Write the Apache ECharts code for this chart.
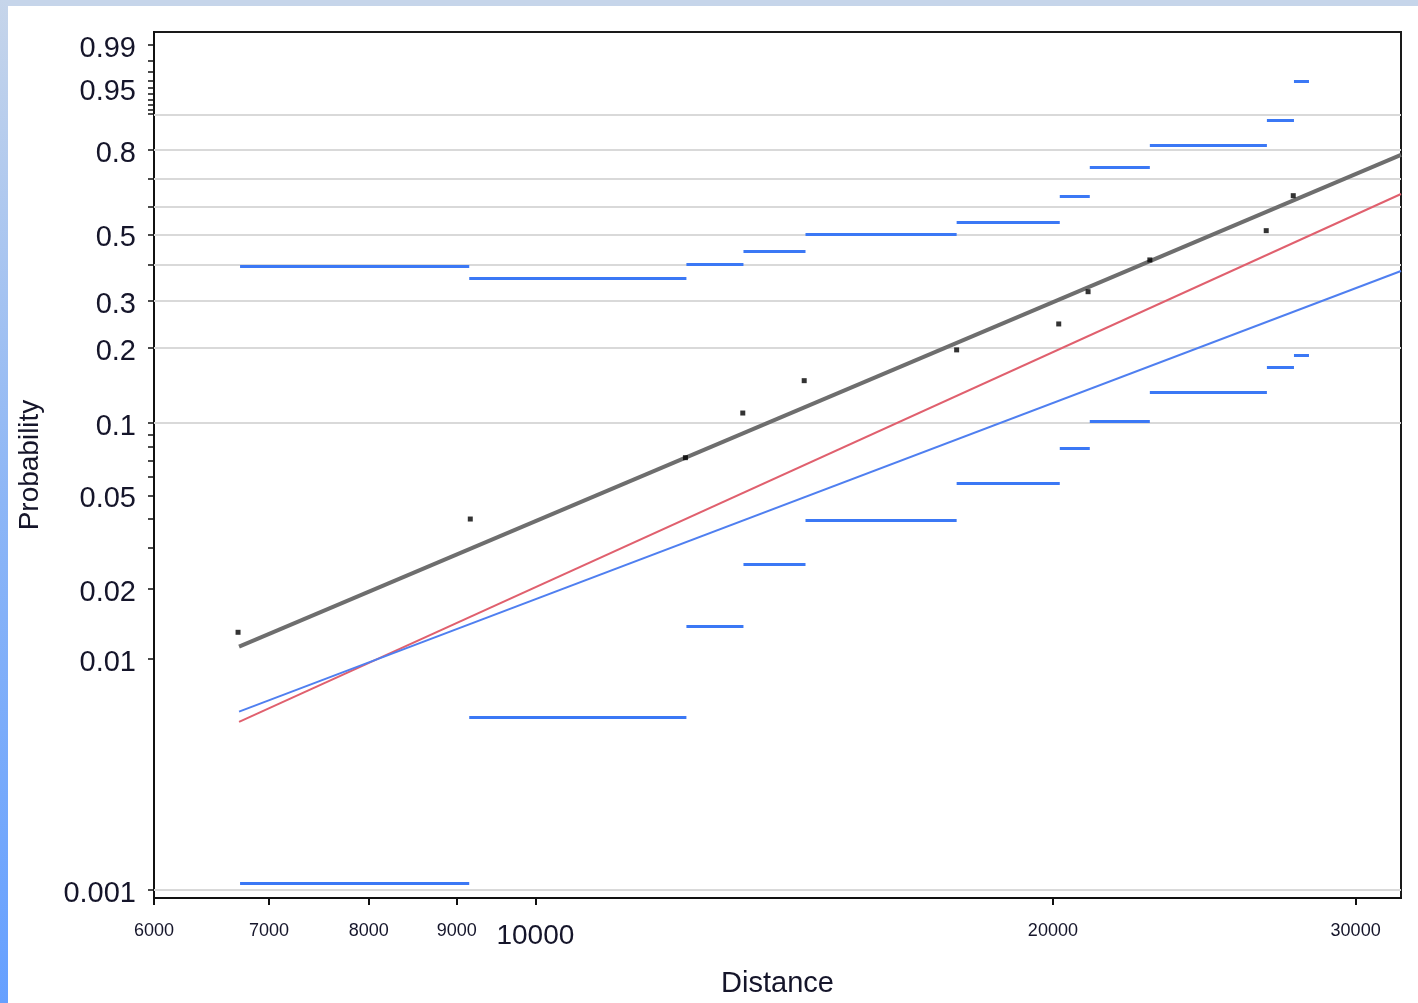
<!DOCTYPE html>
<html><head><meta charset="utf-8">
<script src="https://cdn.jsdelivr.net/npm/echarts@6/dist/echarts.min.js"></script>
<style>
html,body{margin:0;padding:0;width:1418px;height:1003px;overflow:hidden;background:#fff;}
#topbar{position:absolute;left:0;top:0;width:1418px;height:6px;background:#c6d5ea;}
#leftbar{position:absolute;left:0;top:0;width:8px;height:1003px;background:linear-gradient(#c6d5ea,#8db6f6 50%,#66a0ff);}
#chart{position:absolute;left:0;top:0;width:1418px;height:1003px;}
</style></head><body>
<div id="topbar"></div><div id="leftbar"></div><div id="chart"></div>
<script>
// ---- data (Distance, Probability) ----
const pointDistance = [6715, 9165, 12226, 13202, 14334, 17581, 20157, 20965, 22773, 26615, 27596];
const pointProb     = [0.0130, 0.0397, 0.0720, 0.1101, 0.1488, 0.1967, 0.2470, 0.3239, 0.4157, 0.5131, 0.6395];

const fitDistance = [6724, 31880];
const fitProb     = [0.01127, 0.7838];   // gray fitted line
const redProb     = [0.005335, 0.6457];  // red line
const blueProb    = [0.005911, 0.3820];  // blue line

const stepEdges = [6733, 9152, 12242, 13214, 14359, 17581, 20185, 21013, 22773, 26639, 27622, 28183];
const upperProb = [0.3971, 0.3617, 0.4032, 0.4443, 0.5016, 0.5438, 0.6359, 0.7419, 0.8150, 0.8853, 0.9594];
const lowerProb = [0.001072, 0.00561, 0.01383, 0.02537, 0.0392, 0.0562, 0.0785, 0.1015, 0.1340, 0.1682, 0.1880];

const xTickValues  = [6000, 7000, 8000, 9000, 10000, 20000, 30000];
const yLabelValues = [0.001, 0.01, 0.02, 0.05, 0.1, 0.2, 0.3, 0.5, 0.8, 0.95, 0.99];
const yTickValues  = [0.001, 0.01, 0.02, 0.03, 0.04, 0.05, 0.06, 0.07, 0.08, 0.09, 0.1, 0.2, 0.3, 0.4, 0.5, 0.6, 0.7, 0.8, 0.9,
                      0.91, 0.92, 0.93, 0.94, 0.95, 0.96, 0.97, 0.98, 0.99];
const yGridValues  = [0.001, 0.1, 0.2, 0.3, 0.4, 0.5, 0.6, 0.7, 0.8, 0.9];
const xRange = [6000, 31880];
const yRange = [0.000923, 0.99461];

// Weibull probability scale
const W = p => Math.log(-Math.log(1 - p));
const L = Math.log;

const txt = '#15152a';
const font = 'Liberation Sans';

const segData = [];
for (let i = 0; i < upperProb.length; i++) {
  segData.push({coords: [[L(stepEdges[i]), W(upperProb[i])], [L(stepEdges[i+1]), W(upperProb[i])]]});
  segData.push({coords: [[L(stepEdges[i]), W(lowerProb[i])], [L(stepEdges[i+1]), W(lowerProb[i])]]});
}

const chart = echarts.init(document.getElementById('chart'), null, {renderer: 'canvas'});
chart.setOption({
  animation: false,
  backgroundColor: 'transparent',
  grid: {left: 154, top: 32, right: 17, bottom: 105, show: true, borderColor: '#1a1a1a', borderWidth: 2, backgroundColor: '#fff'},
  xAxis: {
    type: 'value', min: L(xRange[0]), max: L(xRange[1]),
    axisLine: {show: true, onZero: false, lineStyle: {color: '#111', width: 2}},
    axisTick: {show: true, customValues: xTickValues.map(L), length: 7, lineStyle: {color: '#111', width: 2}},
    axisLabel: {
      customValues: xTickValues.map(L), margin: 24, color: txt, fontFamily: font,
      formatter: v => { const d = Math.round(Math.exp(v)); return d === 10000 ? '{b|' + d + '}' : '{s|' + d + '}'; },
      rich: {s: {fontSize: 18, color: txt, fontFamily: font}, b: {fontSize: 28, color: txt, fontFamily: font}}
    },
    splitLine: {show: false},
    name: 'Distance', nameLocation: 'middle', nameGap: 71,
    nameTextStyle: {fontSize: 29, color: txt, fontFamily: font}
  },
  yAxis: {
    type: 'value', min: W(yRange[0]), max: W(yRange[1]),
    axisLine: {show: true, onZero: false, lineStyle: {color: '#111', width: 2}},
    axisTick: {show: true, customValues: yTickValues.map(W), length: 6, lineStyle: {color: '#111', width: 1.5}},
    axisLabel: {
      customValues: yLabelValues.map(W), margin: 18, fontSize: 29, color: txt, fontFamily: font,
      formatter: v => {
        let best = yLabelValues[0];
        yLabelValues.forEach(q => { if (Math.abs(W(q) - v) < Math.abs(W(best) - v)) best = q; });
        return '{a|' + best + '}';
      },
      rich: {a: {fontSize: 29, color: txt, fontFamily: font, padding: [8, 0, 0, 0]}}
    },
    splitLine: {show: false},
    name: 'Probability', nameLocation: 'middle', nameGap: 110, nameRotate: 90,
    nameTextStyle: {fontSize: 28, color: txt, fontFamily: font}
  },
  series: [
    {
      type: 'line', data: [], silent: true, z: 1,
      markLine: {
        silent: true, symbol: 'none', label: {show: false}, animation: false, z: 1,
        lineStyle: {color: '#d9d9d9', width: 2, type: 'solid'},
        data: yGridValues.map(p => ({yAxis: W(p)}))
      }
    },
    {
      type: 'lines', coordinateSystem: 'cartesian2d', z: 3, silent: true,
      lineStyle: {color: '#3b78f5', width: 3, opacity: 1},
      data: segData
    },
    {
      type: 'line', z: 4, symbol: 'none', silent: true,
      lineStyle: {color: '#e0606e', width: 2},
      data: fitDistance.map((d, i) => [L(d), W(redProb[i])])
    },
    {
      type: 'line', z: 4, symbol: 'none', silent: true,
      lineStyle: {color: '#4f7ff0', width: 2},
      data: fitDistance.map((d, i) => [L(d), W(blueProb[i])])
    },
    {
      type: 'line', z: 5, symbol: 'none', silent: true,
      lineStyle: {color: '#6e6e6e', width: 4},
      data: fitDistance.map((d, i) => [L(d), W(fitProb[i])])
    },
    {
      type: 'scatter', z: 6, symbol: 'rect', symbolSize: 5, silent: true,
      itemStyle: {color: '#000'},
      data: pointDistance.map((d, i) => [L(d), W(pointProb[i])])
    }
  ]
});
</script>
</body></html>
